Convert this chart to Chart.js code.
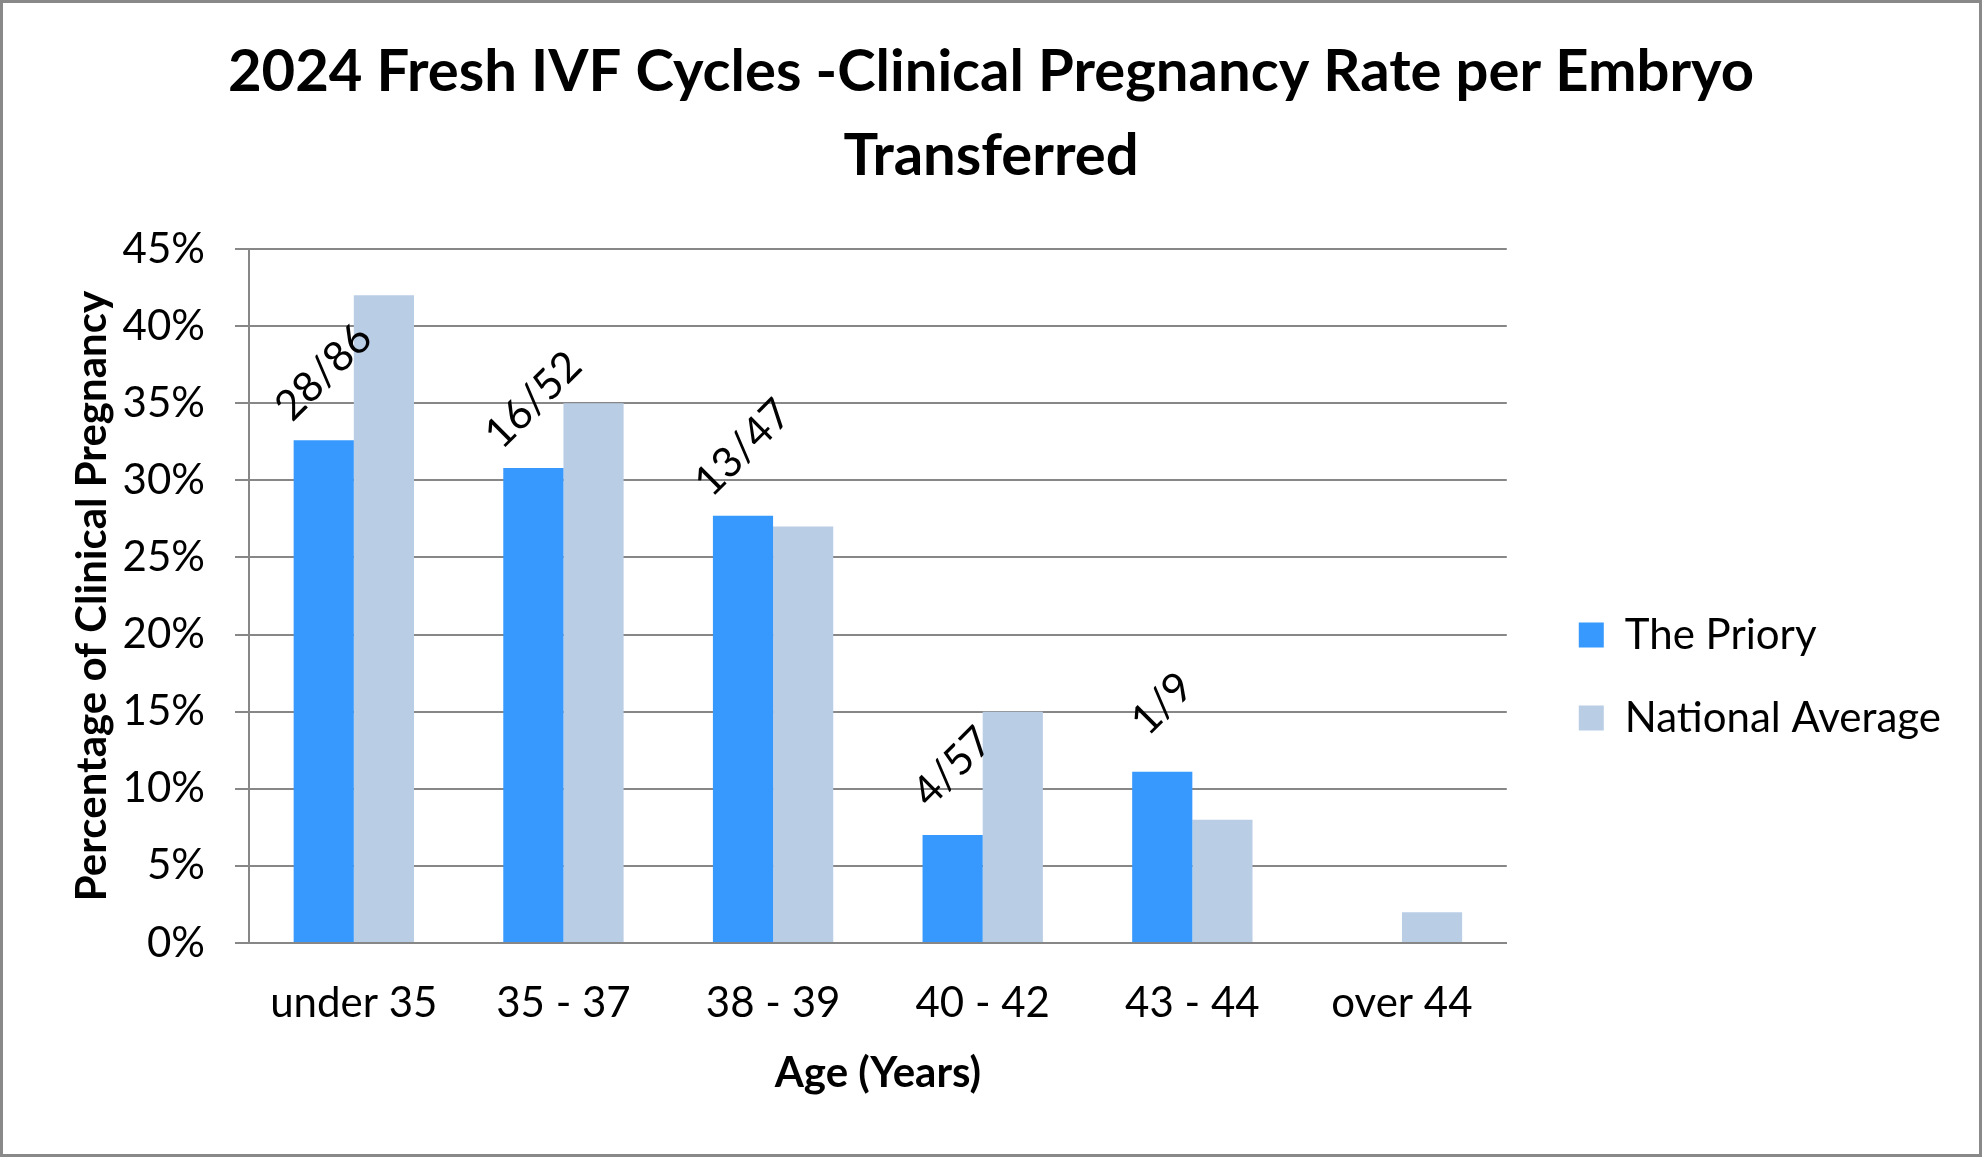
<!DOCTYPE html>
<html>
<head>
<meta charset="utf-8">
<title>2024 Fresh IVF Cycles</title>
<script src="https://cdn.jsdelivr.net/npm/chart.js"></script>
<style>
  html, body { margin: 0; padding: 0; background: #fff; overflow: hidden; }
  #wrap { position: relative; width: 1982px; height: 1157px; }
</style>
</head>
<body>
<div id="wrap"><canvas id="ivfChart"></canvas></div>
<script>
const ageGroups = ['under 35', '35 - 37', '38 - 39', '40 - 42', '43 - 44', 'over 44'];
const prioryRates = [32.6, 30.8, 27.7, 7.0, 11.1, null];
const nationalRates = [42, 35, 27, 15, 8, 2];
const prioryCounts = ['28/86', '16/52', '13/47', '4/57', '1/9', ''];
const yTicks = [0, 5, 10, 15, 20, 25, 30, 35, 40, 45];

const AXIS_FONT = 42;
const TITLE_FONT = 58;
const SIDE_PAD = 62;
const GRID = '#878787';

Chart.defaults.font.family = 'Lato';
Chart.defaults.color = '#000';

// rotated "pregnancies/transfers" text above the Priory bars
const countLabels = {
  id: 'countLabels',
  afterDatasetsDraw(chart) {
    const ctx = chart.ctx;
    const meta = chart.getDatasetMeta(0);
    ctx.save();
    ctx.font = AXIS_FONT + 'px Lato';
    ctx.fillStyle = '#000';
    ctx.textAlign = 'center';
    ctx.textBaseline = 'middle';
    meta.data.forEach((bar, i) => {
      const text = prioryCounts[i];
      if (!text || prioryRates[i] == null) return;
      ctx.save();
      ctx.translate(bar.x, bar.y - 68);
      ctx.rotate(-Math.PI / 4);
      ctx.fillText(text, 0, 0);
      ctx.restore();
    });
    ctx.restore();
  }
};

// move the legend block over to where the original sits
const legendShift = {
  id: 'legendShift',
  afterLayout(chart) {
    const lg = chart.legend;
    if (!lg) return;
    const dx = 31, dy = 98;
    lg.left += dx; lg.right += dx;
    lg.top += dy; lg.bottom += dy;
  }
};

const frame = {
  id: 'frame',
  afterDraw(chart) {
    const ctx = chart.ctx;
    ctx.save();
    ctx.strokeStyle = '#898989';
    ctx.lineWidth = 3;
    ctx.strokeRect(1.5, 1.5, chart.width - 3, chart.height - 3);
    ctx.restore();
  }
};

new Chart(document.getElementById('ivfChart'), {
  type: 'bar',
  data: {
    labels: ageGroups,
    datasets: [
      {
        label: 'The Priory',
        data: prioryRates,
        backgroundColor: '#3798FD',
        borderWidth: 0,
        categoryPercentage: 0.574,
        barPercentage: 1.0,
      },
      {
        label: 'National Average',
        data: nationalRates,
        backgroundColor: '#B9CDE5',
        borderWidth: 0,
        categoryPercentage: 0.574,
        barPercentage: 1.0,
      },
    ],
  },
  options: {
    responsive: true,
    maintainAspectRatio: false,
    animation: false,
    layout: {
      padding: { left: SIDE_PAD, right: SIDE_PAD, top: 0, bottom: 0 },
    },
    plugins: {
      title: {
        display: true,
        text: ['2024 Fresh IVF Cycles -Clinical Pregnancy Rate per Embryo', 'Transferred'],
        font: { size: TITLE_FONT, weight: 'bold', lineHeight: 1.44 },
        color: '#000',
        padding: { top: 31, bottom: 51 },
      },
      legend: {
        position: 'right',
        labels: {
          font: { size: AXIS_FONT },
          boxWidth: 25,
          boxHeight: 25,
          padding: 41,
          color: '#000',
        },
      },
      tooltip: { enabled: false },
    },
    scales: {
      x: {
        grid: { display: false, drawTicks: false },
        border: { display: true, color: GRID, width: 2 },
        ticks: { font: { size: AXIS_FONT }, padding: 35, maxRotation: 0 },
        title: {
          display: true,
          text: 'Age (Years)',
          font: { size: AXIS_FONT, weight: 'bold' },
          padding: { top: 0, bottom: 58 },
        },
        afterFit(s) { s.height = 214; },
      },
      y: {
        min: 0,
        max: 45,
        afterBuildTicks(s) { s.ticks = yTicks.map((v) => ({ value: v })); },
        grid: { color: GRID, lineWidth: 2, tickLength: 14, drawTicks: true },
        border: { display: true, color: GRID, width: 2 },
        ticks: {
          font: { size: AXIS_FONT },
          padding: 30,
          callback: (v) => v + '%',
        },
        title: {
          display: true,
          text: 'Percentage of Clinical Pregnancy',
          font: { size: AXIS_FONT, weight: 'bold' },
          padding: { top: 5, bottom: 0 },
        },
        afterFit(s) { s.width = 249 - SIDE_PAD; },
      },
    },
  },
  plugins: [countLabels, legendShift, frame],
});
</script>
</body>
</html>
